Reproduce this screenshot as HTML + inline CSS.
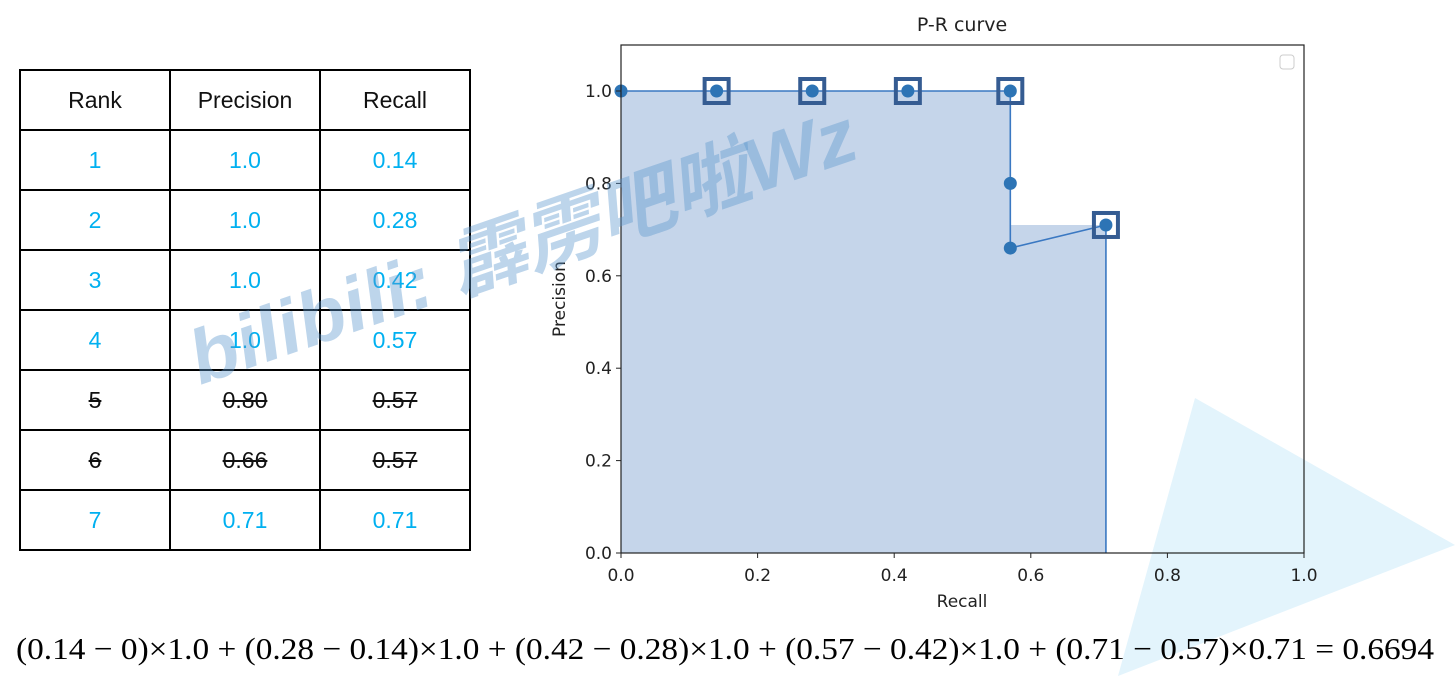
<!DOCTYPE html>
<html><head><meta charset="utf-8"><style>
body{margin:0;width:1455px;height:676px;background:#fff;overflow:hidden;position:relative;font-family:"Liberation Sans",sans-serif}
table{position:absolute;left:19px;top:69px;border-collapse:collapse}
td{width:148px;height:58px;border:2px solid #000;text-align:center;font-size:23px;color:#00b0f0;padding:0}
tr.h td{color:#111}
tr.s td{color:#111;text-decoration:line-through}
</style></head><body>
<svg width="1455" height="676" style="position:absolute;left:0;top:0">
<polygon points="1195,398 1455,545 1118,676" fill="#e3f4fc"/></svg>
<table>
<tr class="h"><td>Rank</td><td>Precision</td><td>Recall</td></tr>
<tr><td>1</td><td>1.0</td><td>0.14</td></tr>
<tr><td>2</td><td>1.0</td><td>0.28</td></tr>
<tr><td>3</td><td>1.0</td><td>0.42</td></tr>
<tr><td>4</td><td>1.0</td><td>0.57</td></tr>
<tr class="s"><td>5</td><td>0.80</td><td>0.57</td></tr>
<tr class="s"><td>6</td><td>0.66</td><td>0.57</td></tr>
<tr><td>7</td><td>0.71</td><td>0.71</td></tr>
</table>
<svg id="chart" width="1455" height="676" style="position:absolute;left:0;top:0" font-family="DejaVu Sans, sans-serif"></svg>
<svg width="1455" height="676" style="position:absolute;left:0;top:0">
<text x="200" y="385" transform="rotate(-19 200 385)" font-size="76" font-weight="bold" font-style="italic" fill="rgba(90,150,205,0.4)" font-family="Liberation Sans, Noto Sans CJK SC, sans-serif" textLength="700" lengthAdjust="spacingAndGlyphs">bilibili: 霹雳吧啦Wz</text></svg>
<svg width="1455" height="676" style="position:absolute;left:0;top:0">
<text x="16" y="659" font-size="31" font-family="Liberation Serif, serif" textLength="1418" lengthAdjust="spacingAndGlyphs" fill="#000">(0.14 − 0)×1.0 + (0.28 − 0.14)×1.0 + (0.42 − 0.28)×1.0 + (0.57 − 0.42)×1.0 + (0.71 − 0.57)×0.71 = 0.6694</text></svg>
<script>
const recall=[0,0.14,0.28,0.42,0.57,0.57,0.57,0.71];
const precision=[1.0,1.0,1.0,1.0,1.0,0.80,0.66,0.71];
const keyRecall=[0.14,0.28,0.42,0.57,0.71];
const keyPrecision=[1.0,1.0,1.0,1.0,0.71];
const xTicks=["0.0","0.2","0.4","0.6","0.8","1.0"];
const yTicks=["0.0","0.2","0.4","0.6","0.8","1.0"];
const L=621,R=1304,T=45,B=553;
const X=v=>L+v*(R-L);
const Y=v=>B-v*462;
const s=document.getElementById('chart');
const NS='http://www.w3.org/2000/svg';
function mk(t,a,p){const e=document.createElementNS(NS,t);for(const k in a)e.setAttribute(k,a[k]);(p||s).appendChild(e);return e;}
let d=`M${X(0)},${Y(0)}`;
for(let i=0;i<keyRecall.length;i++){const x0=i?keyRecall[i-1]:0;d+=` L${X(x0)},${Y(keyPrecision[i])} L${X(keyRecall[i])},${Y(keyPrecision[i])}`;}
d+=` L${X(keyRecall[keyRecall.length-1])},${Y(0)} Z`;
let f=mk('path',{d,fill:'#c5d5ea'});


let pts=recall.map((r,i)=>X(r)+','+Y(precision[i])).join(' ')+` ${X(recall[recall.length-1])},${Y(0)}`;
let ln=mk('polyline',{points:pts,fill:'none',stroke:'#3a78c2','stroke-width':1.6});


keyRecall.forEach((r,i)=>{const q=mk('rect',{x:X(r)-12,y:Y(keyPrecision[i])-12,width:24,height:24,fill:'none',stroke:'#355c92','stroke-width':4});

});
recall.forEach((r,i)=>{const c=mk('circle',{cx:X(r),cy:Y(precision[i]),r:6.5,fill:'#2d74b5'});

});
mk('rect',{x:L,y:T,width:R-L,height:B-T,fill:'none',stroke:'#222','stroke-width':1.2});
xTicks.forEach((t,i)=>{const v=i*0.2;mk('line',{x1:X(v),x2:X(v),y1:B,y2:B+5,stroke:'#222'});
const e=mk('text',{x:X(v),y:B+28,'text-anchor':'middle','font-size':17,fill:'#222'});e.textContent=t;

});
yTicks.forEach((t,i)=>{const v=i*0.2;mk('line',{x1:L-5,x2:L,y1:Y(v),y2:Y(v),stroke:'#222'});
const e=mk('text',{x:L-9,y:Y(v)+6,'text-anchor':'end','font-size':17,fill:'#222'});e.textContent=t;

});
let t=mk('text',{x:962,y:31,'text-anchor':'middle','font-size':19,fill:'#222'});t.textContent='P-R curve';


t=mk('text',{x:962,y:607,'text-anchor':'middle','font-size':17,fill:'#222'});t.textContent='Recall';


t=mk('text',{x:565,y:299,'text-anchor':'middle','font-size':17,fill:'#222',transform:'rotate(-90 565 299)'});t.textContent='Precision';


let lg=mk('rect',{x:1280,y:55,width:14,height:14,rx:3,fill:'#fff',stroke:'#ccc'});


</script>
</body></html>
